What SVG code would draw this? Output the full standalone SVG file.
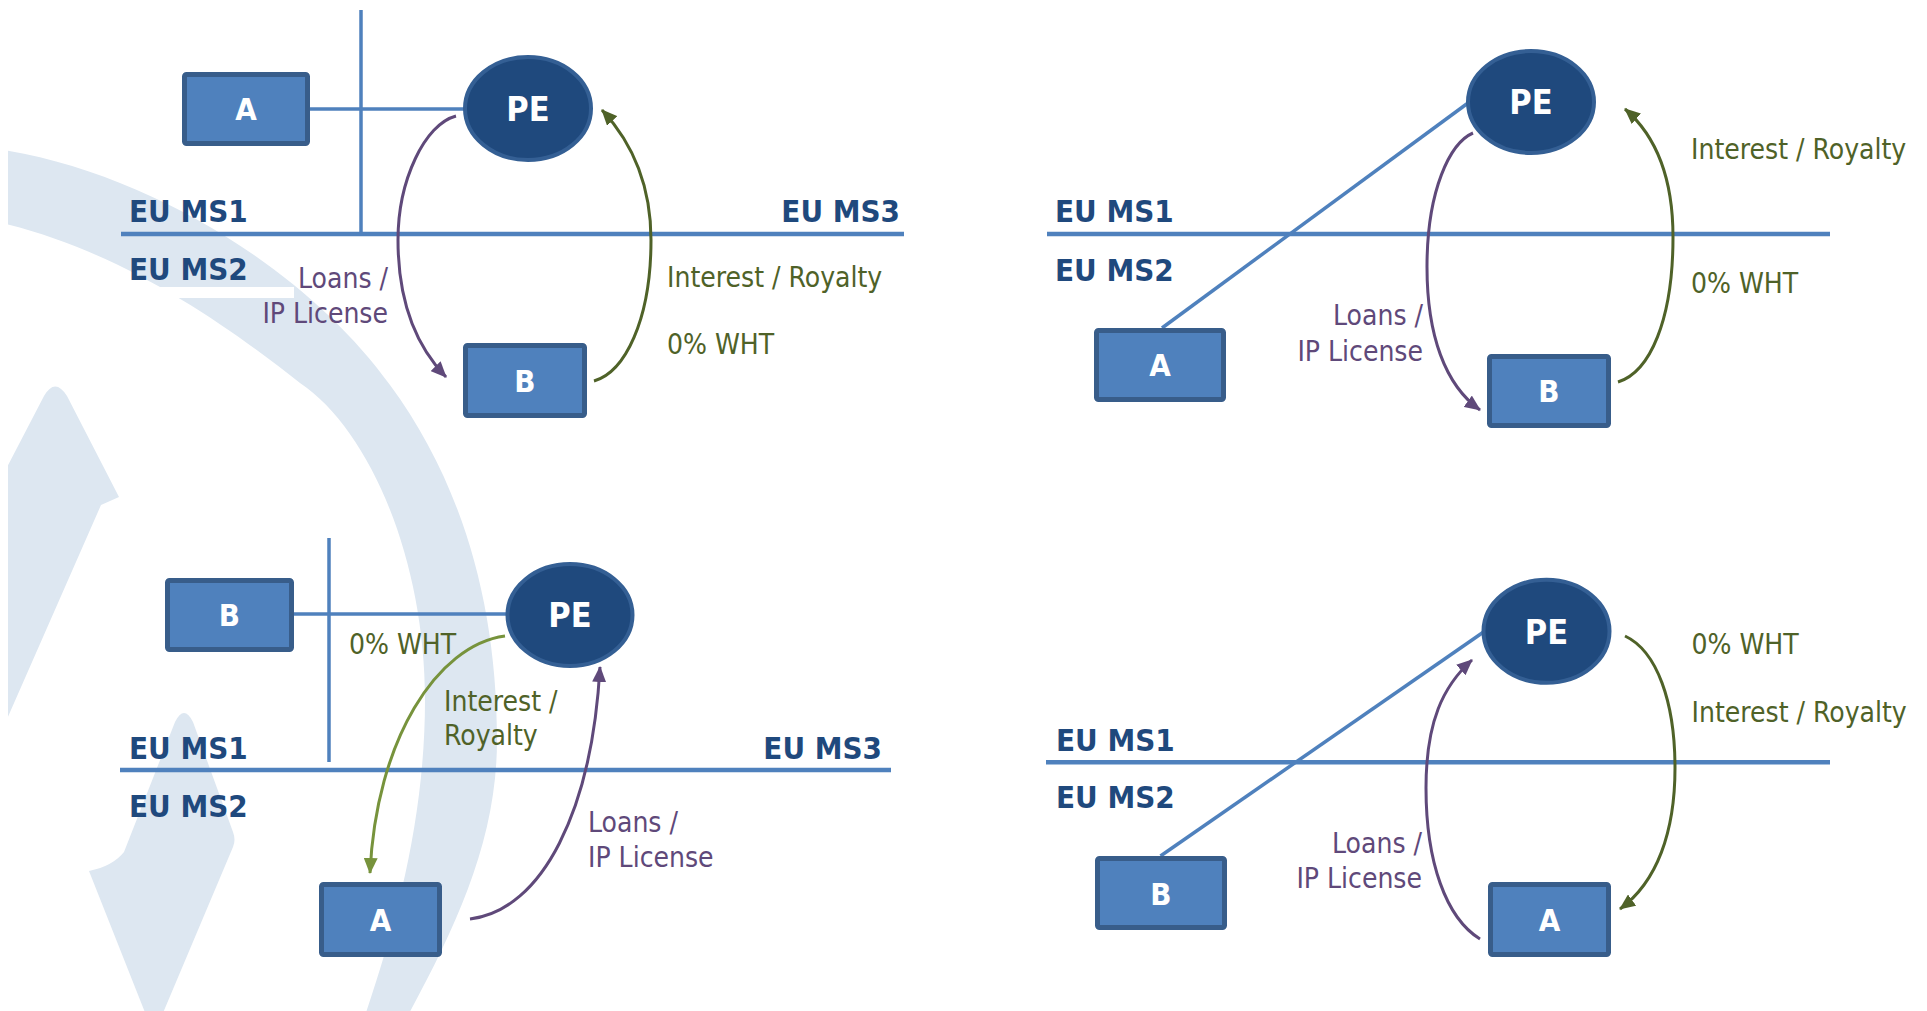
<svg xmlns="http://www.w3.org/2000/svg" width="1927" height="1011" viewBox="0 0 1927 1011">
  <defs>
    <style>
      text { font-family: "DejaVu Sans Condensed", "DejaVu Sans", "Liberation Sans", sans-serif; font-stretch: condensed; }
      .box { fill: #4f81bd; stroke: #385d8a; stroke-width: 5; }
      .pe { fill: #1f497d; stroke: #345f94; stroke-width: 4; }
      .node-label { fill: #ffffff; font-weight: bold; font-size: 31px; text-anchor: middle; }
      .pe-label { font-size: 34px; }
      .region { fill: #1f497d; font-weight: bold; font-size: 31px; }
      .end { text-anchor: end; }
      .t-purple { fill: #5f497a; font-size: 28px; }
      .t-olive { fill: #4f6228; font-size: 28px; }
      .divider { stroke: #4f81bd; stroke-width: 4.5; fill: none; }
      .link { stroke: #4f81bd; stroke-width: 3.5; fill: none; }
      .flow { fill: none; stroke-width: 3; }
      .flow-purple { stroke: #5f497a; marker-end: url(#head-purple); }
      .flow-olive { stroke: #4f6228; marker-end: url(#head-olive); }
      .flow-green { stroke: #77933c; marker-end: url(#head-green); }
      .mark { fill: #dde7f1; }
    </style>
    <marker id="head-purple" markerUnits="userSpaceOnUse" viewBox="0 0 16 14" markerWidth="16" markerHeight="14" refX="15" refY="7" orient="auto">
      <path d="M0,0 L16,7 L0,14 Z" fill="#5f497a"/>
    </marker>
    <marker id="head-olive" markerUnits="userSpaceOnUse" viewBox="0 0 16 14" markerWidth="16" markerHeight="14" refX="15" refY="7" orient="auto">
      <path d="M0,0 L16,7 L0,14 Z" fill="#4f6228"/>
    </marker>
    <marker id="head-green" markerUnits="userSpaceOnUse" viewBox="0 0 16 14" markerWidth="16" markerHeight="14" refX="15" refY="7" orient="auto">
      <path d="M0,0 L16,7 L0,14 Z" fill="#77933c"/>
    </marker>
    <clipPath id="page">
      <rect x="8" y="0" width="1919" height="1011"/>
    </clipPath>
  </defs>

  <rect x="0" y="0" width="1927" height="1011" fill="#ffffff"/>

  <!-- faint circular-arrow backdrop -->
  <g id="backdrop" clip-path="url(#page)">
    <path class="mark" d="M-40,145 C120,155 300,260 390,385 C460,480 497,600 497,740 C497,845 452,935 400,1030 L360,1030 C395,930 425,820 425,700 C425,560 370,430 300,383 C220,320 100,235 -40,215 Z"/>
    <path class="mark" d="M-10,500 L44,396 Q55,377 67,396 L119,497 Q110,501 101,505 L0,735 Z"/>
    <path class="mark" d="M175,722 Q184,704 193,722 L233,832 Q236,840 233,847 L160,1020 L148,1020 L89,871 Q113,866 124,852 Z"/>
    <rect x="8" y="287" width="286" height="11" fill="#ffffff"/>
  </g>

  <!-- region dividers -->
  <g id="dividers">
    <line class="divider" x1="121" y1="234" x2="904" y2="234"/>
    <line class="divider" x1="1047" y1="234" x2="1830" y2="234"/>
    <line class="divider" x1="120" y1="770" x2="891" y2="770"/>
    <line class="divider" x1="1046" y1="762.3" x2="1830" y2="762.3"/>
  </g>

  <!-- region labels -->
  <g id="regions">
    <text class="region" x="129" y="222">EU MS1</text>
    <text class="region end" x="900" y="222">EU MS3</text>
    <text class="region" x="129" y="280">EU MS2</text>

    <text class="region" x="1055" y="222">EU MS1</text>
    <text class="region" x="1055" y="281">EU MS2</text>

    <text class="region" x="129" y="759">EU MS1</text>
    <text class="region end" x="882" y="759">EU MS3</text>
    <text class="region" x="129" y="817">EU MS2</text>

    <text class="region" x="1056" y="751">EU MS1</text>
    <text class="region" x="1056" y="808">EU MS2</text>
  </g>

  <!-- connectors -->
  <g id="connectors">
    <!-- ownership links -->
    <line class="link" x1="361" y1="10" x2="361" y2="233"/>
    <line class="link" x1="310" y1="109" x2="466" y2="109"/>
    <line class="link" x1="1162" y1="328" x2="1468" y2="103" stroke-width="3"/>
    <line class="link" x1="329" y1="538" x2="329" y2="762"/>
    <line class="link" x1="294" y1="614" x2="508" y2="614"/>
    <line class="link" x1="1160.5" y1="856" x2="1485" y2="631" stroke-width="3"/>

    <!-- top-left flows -->
    <path class="flow flow-purple" d="M456,116 C425,124 398,180 398,240 C398,300 415,345 446,377"/>
    <path class="flow flow-olive" d="M594,381 C625,372 651,320 651,240 C651,180 628,138 602,110"/>

    <!-- top-right flows -->
    <path class="flow flow-purple" d="M1473,133 C1450,143 1427,190 1427,267 C1427,335 1445,385 1480,410"/>
    <path class="flow flow-olive" d="M1618,382 C1650,372 1673,320 1673,237 C1673,175 1655,135 1625,109"/>

    <!-- bottom-left flows -->
    <path class="flow flow-green" d="M505,636 C437,645 376,740 370,873"/>
    <path class="flow flow-purple" d="M470,919 C543,910 592,810 600,667"/>

    <!-- bottom-right flows -->
    <path class="flow flow-purple" d="M1480,939 C1446,918 1426,862 1426,788 C1426,722 1443,686 1472,660"/>
    <path class="flow flow-olive" d="M1625,636 C1657,651 1675,702 1675,768 C1675,832 1657,882 1620,909"/>
  </g>

  <!-- flow labels -->
  <g id="flow-labels">
    <text class="t-purple end" x="388" y="288">Loans /</text>
    <text class="t-purple end" x="388" y="323">IP License</text>
    <text class="t-olive" x="667" y="287">Interest / Royalty</text>
    <text class="t-olive" x="667" y="354">0% WHT</text>

    <text class="t-purple end" x="1423" y="325">Loans /</text>
    <text class="t-purple end" x="1423" y="361">IP License</text>
    <text class="t-olive" x="1691" y="159">Interest / Royalty</text>
    <text class="t-olive" x="1691" y="293">0% WHT</text>

    <text class="t-olive" x="349" y="654">0% WHT</text>
    <text class="t-olive" x="444" y="711">Interest /</text>
    <text class="t-olive" x="444" y="745">Royalty</text>
    <text class="t-purple" x="588" y="832">Loans /</text>
    <text class="t-purple" x="588" y="867">IP License</text>

    <text class="t-purple end" x="1422" y="853">Loans /</text>
    <text class="t-purple end" x="1422" y="888">IP License</text>
    <text class="t-olive" x="1691.5" y="654">0% WHT</text>
    <text class="t-olive" x="1691.5" y="722">Interest / Royalty</text>
  </g>

  <!-- top-left case -->
  <g id="tl-a">
    <rect class="box" x="184.5" y="74.5" width="123" height="69" rx="2"/>
    <text class="node-label" x="246" y="120">A</text>
  </g>
  <g id="tl-pe">
    <ellipse class="pe" cx="528" cy="108.5" rx="63" ry="51.5"/>
    <text class="node-label pe-label" x="528" y="121">PE</text>
  </g>
  <g id="tl-b">
    <rect class="box" x="465.5" y="345.5" width="119" height="70" rx="2"/>
    <text class="node-label" x="525" y="392">B</text>
  </g>

  <!-- top-right case -->
  <g id="tr-pe">
    <ellipse class="pe" cx="1531" cy="102" rx="63" ry="51"/>
    <text class="node-label pe-label" x="1531" y="114">PE</text>
  </g>
  <g id="tr-a">
    <rect class="box" x="1096.5" y="330.5" width="127" height="69" rx="2"/>
    <text class="node-label" x="1160" y="376">A</text>
  </g>
  <g id="tr-b">
    <rect class="box" x="1489.5" y="356.5" width="119" height="69" rx="2"/>
    <text class="node-label" x="1549" y="402">B</text>
  </g>

  <!-- bottom-left case -->
  <g id="bl-b">
    <rect class="box" x="167.5" y="580.5" width="124" height="69" rx="2"/>
    <text class="node-label" x="229.5" y="626">B</text>
  </g>
  <g id="bl-pe">
    <ellipse class="pe" cx="570" cy="615" rx="62.5" ry="51"/>
    <text class="node-label pe-label" x="570" y="627">PE</text>
  </g>
  <g id="bl-a">
    <rect class="box" x="321.5" y="884.5" width="118" height="70" rx="2"/>
    <text class="node-label" x="380.5" y="931">A</text>
  </g>

  <!-- bottom-right case -->
  <g id="br-pe">
    <ellipse class="pe" cx="1546.5" cy="631.3" rx="63" ry="51.5"/>
    <text class="node-label pe-label" x="1546.5" y="643.5">PE</text>
  </g>
  <g id="br-b">
    <rect class="box" x="1097.5" y="858.5" width="127" height="69" rx="2"/>
    <text class="node-label" x="1161" y="905">B</text>
  </g>
  <g id="br-a">
    <rect class="box" x="1490.5" y="884.5" width="118" height="70" rx="2"/>
    <text class="node-label" x="1549.5" y="931">A</text>
  </g>
</svg>
